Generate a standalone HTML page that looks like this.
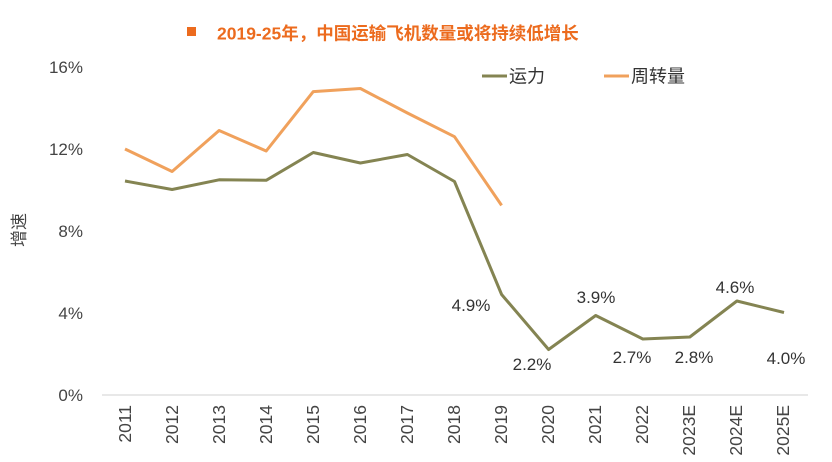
<!DOCTYPE html>
<html><head><meta charset="utf-8"><style>
html,body{margin:0;padding:0;background:#fff;}
svg{display:block;font-family:"Liberation Sans","Noto Sans CJK SC",sans-serif;}
</style></head><body>
<svg width="832" height="462" viewBox="0 0 832 462">
<rect x="187" y="27" width="9" height="9" fill="#ec6b1e"/>
<text x="217" y="39.5" font-size="17.5" font-weight="bold" fill="#ec6b1e">2019-25年，中国运输飞机数量或将持续低增长</text>
<line x1="482" y1="76" x2="507" y2="76" stroke="#848452" stroke-width="3"/>
<text x="509" y="82.5" font-size="18" fill="#333">运力</text>
<line x1="604" y1="76" x2="629" y2="76" stroke="#f0a15c" stroke-width="3"/>
<text x="631" y="82.5" font-size="18" fill="#333">周转量</text>
<g font-size="17" fill="#444" text-anchor="end">
<text x="83" y="73">16%</text><text x="83" y="155">12%</text><text x="83" y="237">8%</text><text x="83" y="319">4%</text><text x="83" y="401">0%</text>
</g>
<text transform="translate(25,230) rotate(-90)" font-size="17" fill="#444" text-anchor="middle">增速</text>
<line x1="102" y1="395" x2="808" y2="395" stroke="#d9d9d9" stroke-width="1.2"/>
<g font-size="17.5" fill="#444" text-anchor="end">
<text transform="translate(131,405) rotate(-90)">2011</text>
<text transform="translate(178,405) rotate(-90)">2012</text>
<text transform="translate(225,405) rotate(-90)">2013</text>
<text transform="translate(272,405) rotate(-90)">2014</text>
<text transform="translate(319,405) rotate(-90)">2015</text>
<text transform="translate(366,405) rotate(-90)">2016</text>
<text transform="translate(413,405) rotate(-90)">2017</text>
<text transform="translate(460,405) rotate(-90)">2018</text>
<text transform="translate(507,405) rotate(-90)">2019</text>
<text transform="translate(554,405) rotate(-90)">2020</text>
<text transform="translate(601,405) rotate(-90)">2021</text>
<text transform="translate(648,405) rotate(-90)">2022</text>
<text transform="translate(695,405) rotate(-90)">2023E</text>
<text transform="translate(742,405) rotate(-90)">2024E</text>
<text transform="translate(789,405) rotate(-90)">2025E</text>
</g>
<polyline fill="none" stroke="#f0a15c" stroke-width="3" stroke-linejoin="round" points="125,149 172.1,171.5 219.1,130.5 266.2,151 313.3,91.6 360.4,88.5 407.4,113 454.5,136.7 501.6,205.4"/>
<polyline fill="none" stroke="#848452" stroke-width="3" stroke-linejoin="round" points="125,181 172.1,189.5 219.1,179.8 266.2,180.3 313.3,152.5 360.4,163 407.4,154.5 454.5,181.5 501.6,294.5 548.6,349.5 595.7,315.5 642.8,339 689.8,337 736.9,301 784,312.5"/>
<g font-size="17" fill="#333" text-anchor="middle">
<text x="471" y="311">4.9%</text>
<text x="532" y="370">2.2%</text>
<text x="596" y="303">3.9%</text>
<text x="632" y="363">2.7%</text>
<text x="694" y="363">2.8%</text>
<text x="735" y="293">4.6%</text>
<text x="786" y="364">4.0%</text>
</g>
</svg>
</body></html>
